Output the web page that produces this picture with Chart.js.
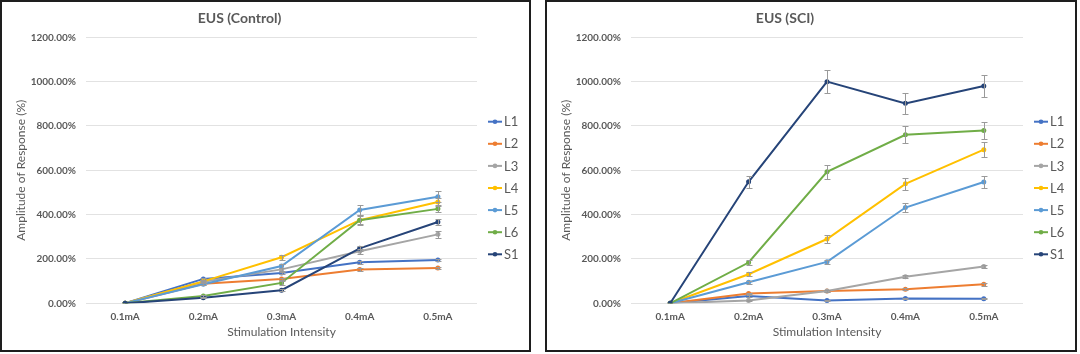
<!DOCTYPE html>
<html>
<head>
<meta charset="utf-8">
<script src="https://cdn.jsdelivr.net/npm/chart.js@4/dist/chart.umd.min.js"></script>
<style>
  html, body { margin: 0; padding: 0; background: #ffffff; }
  body { width: 1080px; height: 354px; position: relative; overflow: hidden; }
  .panel { position: absolute; top: 0; height: 348px; border: 2px solid #1e1e1e; background: #fff; }
  #p1 { left: 0; width: 527px; }
  #p2 { left: 545px; width: 528px; }
  canvas { display: block; }
</style>
</head>
<body>
<div class="panel" id="p1"><canvas id="c1" width="527" height="348"></canvas></div>
<div class="panel" id="p2"><canvas id="c2" width="528" height="348"></canvas></div>
<script>
// ---- data ----
const categories = ['0.1mA', '0.2mA', '0.3mA', '0.4mA', '0.5mA'];
const seriesNames = ['L1', 'L2', 'L3', 'L4', 'L5', 'L6', 'S1'];
const seriesColors = ['#4472C4', '#ED7D31', '#A5A5A5', '#FFC000', '#5B9BD5', '#70AD47', '#264478'];
const yTicksMin = 0;
const yTicksMax = 1200;
const yTicksStep = 200;

// EUS (Control)
const controlL1 = [0, 110, 137, 185, 195];
const controlL2 = [0, 88, 110, 152, 159];
const controlL3 = [0, 97, 153, 235, 311];
const controlL4 = [0, 99, 208, 375, 457];
const controlL5 = [0, 86, 168, 421, 481];
const controlL6 = [0, 33, 92, 375, 426];
const controlS1 = [0, 25, 59, 248, 367];
const controlErrL1 = [0, 5, 5, 6, 6];
const controlErrL2 = [0, 4, 5, 6, 6];
const controlErrL3 = [0, 5, 8, 12, 17];
const controlErrL4 = [0, 5, 11, 18, 16];
const controlErrL5 = [0, 5, 9, 21, 26];
const controlErrL6 = [0, 4, 8, 22, 16];
const controlErrS1 = [0, 3, 5, 11, 14];

// EUS (SCI)
const sciL1 = [0, 33, 13, 22, 21];
const sciL2 = [0, 44, 56, 63, 86];
const sciL3 = [0, 13, 56, 120, 166];
const sciL4 = [0, 131, 290, 539, 693];
const sciL5 = [0, 95, 187, 432, 547];
const sciL6 = [0, 184, 593, 760, 780];
const sciS1 = [0, 548, 1000, 902, 980];
const sciErrL1 = [0, 3, 3, 3, 3];
const sciErrL2 = [0, 4, 5, 5, 6];
const sciErrL3 = [0, 3, 4, 6, 8];
const sciErrL4 = [0, 8, 16, 28, 35];
const sciErrL5 = [0, 6, 8, 22, 28];
const sciErrL6 = [0, 10, 30, 38, 38];
const sciErrS1 = [0, 28, 51, 47, 50];

// ---- styling ----
const FONT = 'Lato, "Open Sans", "DejaVu Sans", sans-serif';
const TEXT = '#595959';

const errorBarPlugin = {
  id: 'errorBars',
  afterDatasetsDraw(chart) {
    const ctx = chart.ctx;
    const ys = chart.scales.y;
    ctx.save();
    ctx.strokeStyle = '#9a9a9a';
    ctx.lineWidth = 1;
    chart.data.datasets.forEach((ds, di) => {
      const meta = chart.getDatasetMeta(di);
      meta.data.forEach((pt, i) => {
        const e = ds.errors[i];
        if (!e) return;
        const v = ds.data[i];
        const y1 = Math.round(ys.getPixelForValue(v + e)) + 0.5;
        const y2 = Math.round(ys.getPixelForValue(v - e)) + 0.5;
        const x = Math.round(pt.x) + 0.5;
        ctx.beginPath();
        ctx.moveTo(x, y1); ctx.lineTo(x, y2);
        ctx.moveTo(x - 3, y1); ctx.lineTo(x + 3, y1);
        ctx.moveTo(x - 3, y2); ctx.lineTo(x + 3, y2);
        ctx.stroke();
      });
    });
    ctx.restore();
  }
};

const legendPlugin = {
  id: 'sideLegend',
  afterDraw(chart) {
    const ctx = chart.ctx;
    ctx.save();
    const x0 = chart.chartArea.right + 11;
    chart.data.datasets.forEach((ds, i) => {
      const y = 119.7 + i * 22.1;
      ctx.strokeStyle = ds.borderColor;
      ctx.lineWidth = 2;
      ctx.beginPath();
      ctx.moveTo(x0, y); ctx.lineTo(x0 + 14, y);
      ctx.stroke();
      ctx.fillStyle = ds.borderColor;
      ctx.beginPath();
      ctx.arc(x0 + 7, y, 2.3, 0, Math.PI * 2);
      ctx.fill();
      ctx.fillStyle = TEXT;
      ctx.font = '13px ' + FONT;
      ctx.textAlign = 'left';
      ctx.textBaseline = 'middle';
      ctx.fillText(ds.label, x0 + 16, y + 0.5);
    });
    ctx.restore();
  }
};

function makeChart(canvasId, title, values, errors) {
  const datasets = seriesNames.map((name, i) => ({
    label: name,
    data: values[i],
    errors: errors[i],
    borderColor: seriesColors[i],
    backgroundColor: seriesColors[i],
    borderWidth: 2,
    pointRadius: 2.5,
    pointBorderWidth: 0,
    pointHoverRadius: 2.5,
    tension: 0,
    order: seriesNames.length - i
  }));
  return new Chart(document.getElementById(canvasId), {
    type: 'line',
    data: { labels: categories, datasets },
    plugins: [errorBarPlugin, legendPlugin],
    options: {
      responsive: false,
      animation: false,
      devicePixelRatio: 1,
      layout: { padding: { left: 0, top: 0, right: 52, bottom: 0 } },
      plugins: {
        legend: { display: false },
        tooltip: { enabled: false },
        title: {
          display: true,
          text: title,
          color: TEXT,
          font: { family: FONT, size: 14, weight: 'bold', lineHeight: 1.2 },
          padding: { top: 8, bottom: 10.5 }
        }
      },
      scales: {
        x: {
          type: 'category',
          offset: true,
          grid: { display: false, drawTicks: false },
          border: { display: false },
          ticks: {
            color: TEXT,
            padding: 7,
            font: { family: FONT, size: 10, weight: 'bold', lineHeight: 1.2 }
          },
          title: {
            display: true,
            text: 'Stimulation Intensity',
            color: TEXT,
            font: { family: FONT, size: 12, lineHeight: 1.2 },
            padding: { top: 0, bottom: 10.8 }
          },
          afterFit(scale) { scale.height = 46.7; }
        },
        y: {
          min: yTicksMin,
          max: yTicksMax,
          grid: { color: '#e2e2e2', lineWidth: 1, drawTicks: false },
          border: { display: false },
          ticks: {
            stepSize: yTicksStep,
            color: TEXT,
            padding: 10,
            font: { family: FONT, size: 10, weight: 'bold', lineHeight: 1.2 },
            callback: (v) => Number(v).toFixed(2) + '%'
          },
          title: {
            display: true,
            text: 'Amplitude of Response (%)',
            color: TEXT,
            font: { family: FONT, size: 12, lineHeight: 1.2 },
            padding: { top: 12, bottom: 0 }
          },
          afterFit(scale) { scale.width = 84; }
        }
      }
    }
  });
}

makeChart('c1', 'EUS (Control)',
  [controlL1, controlL2, controlL3, controlL4, controlL5, controlL6, controlS1],
  [controlErrL1, controlErrL2, controlErrL3, controlErrL4, controlErrL5, controlErrL6, controlErrS1]);
makeChart('c2', 'EUS (SCI)',
  [sciL1, sciL2, sciL3, sciL4, sciL5, sciL6, sciS1],
  [sciErrL1, sciErrL2, sciErrL3, sciErrL4, sciErrL5, sciErrL6, sciErrS1]);
</script>
</body>
</html>
